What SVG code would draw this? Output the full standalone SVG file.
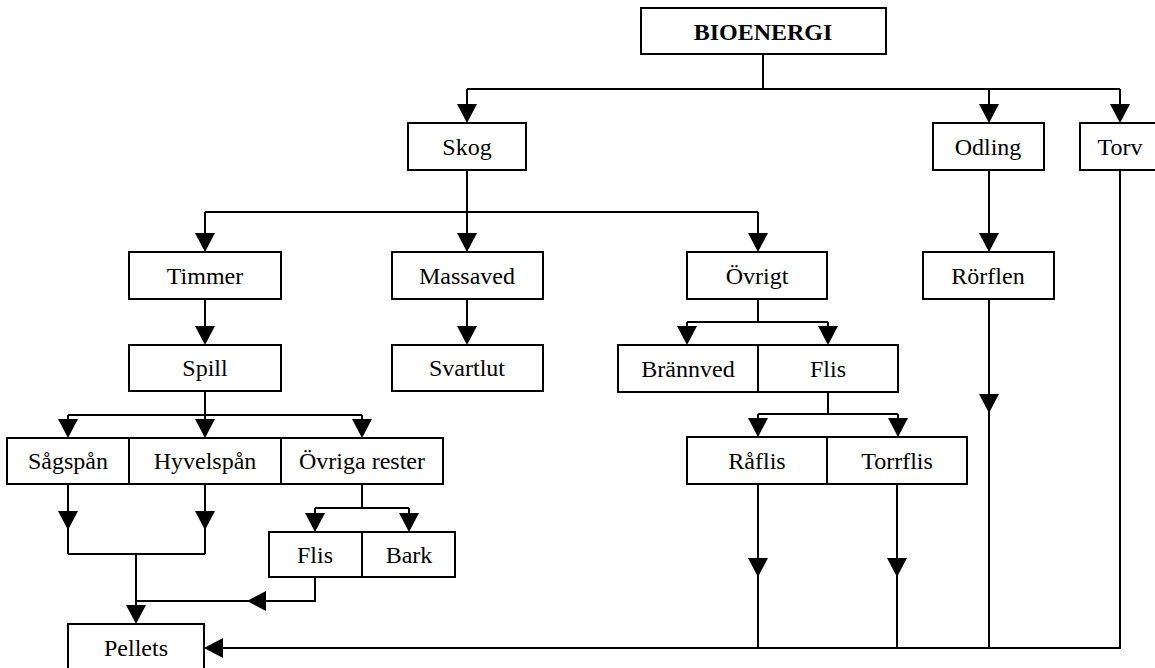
<svg xmlns="http://www.w3.org/2000/svg" xmlns:xlink="http://www.w3.org/1999/xlink" width="1155" height="668" viewBox="0 0 1155 668">
<style>
.box{fill:#fff;stroke:#000;stroke-width:2}
.lbl{font-family:"Liberation Serif","Times New Roman",serif;font-size:24px;fill:#000;text-anchor:middle}
.b{font-weight:bold}
.ln{fill:none;stroke:#000;stroke-width:2}
.ah{fill:#000}
</style>
<defs>
<path id="ah" class="ah" d="M0,0 L-10,-19 L10,-19 Z"/>
</defs>
<rect width="1155" height="668" fill="#fff"/>
<g id="connectors">
<path class="ln" d="M763,54 V89 M467,89 H1120 M467,89 V106 M989,89 V106 M1120,89 V106"/>
<path class="ln" d="M467,170 V212 M205,212 H758 M205,212 V235 M467,212 V235 M758,212 V235"/>
<path class="ln" d="M989,170 V235"/>
<path class="ln" d="M205,299 V328 M467,299 V328"/>
<path class="ln" d="M758,299 V322 M687,322 H828 M687,322 V328 M828,322 V328"/>
<path class="ln" d="M205,391 V415 M68,415 H362 M68,415 V421 M205,415 V421 M362,415 V421"/>
<path class="ln" d="M828,392 V414 M758,414 H898 M758,414 V420 M898,414 V420"/>
<path class="ln" d="M68,484 V554 M205,484 V554 M68,554 H205 M136,554 V607"/>
<path class="ln" d="M362,484 V508 M315,508 H409 M315,508 V515 M409,508 V515"/>
<path class="ln" d="M315,577 V601 H136"/>
<path class="ln" d="M758,484 V648 M897,484 V648 M989,299 V648"/>
<path class="ln" d="M1120,170 V648 H221"/>
<use xlink:href="#ah" href="#ah" x="467" y="123"/>
<use xlink:href="#ah" href="#ah" x="989" y="123"/>
<use xlink:href="#ah" href="#ah" x="1120" y="123"/>
<use xlink:href="#ah" href="#ah" x="205" y="252"/>
<use xlink:href="#ah" href="#ah" x="467" y="252"/>
<use xlink:href="#ah" href="#ah" x="758" y="252"/>
<use xlink:href="#ah" href="#ah" x="989" y="252"/>
<use xlink:href="#ah" href="#ah" x="205" y="345"/>
<use xlink:href="#ah" href="#ah" x="467" y="345"/>
<use xlink:href="#ah" href="#ah" x="687" y="345"/>
<use xlink:href="#ah" href="#ah" x="828" y="345"/>
<use xlink:href="#ah" href="#ah" x="68" y="438"/>
<use xlink:href="#ah" href="#ah" x="205" y="438"/>
<use xlink:href="#ah" href="#ah" x="362" y="438"/>
<use xlink:href="#ah" href="#ah" x="758" y="437"/>
<use xlink:href="#ah" href="#ah" x="898" y="437"/>
<use xlink:href="#ah" href="#ah" x="68" y="530"/>
<use xlink:href="#ah" href="#ah" x="205" y="530"/>
<use xlink:href="#ah" href="#ah" x="315" y="532"/>
<use xlink:href="#ah" href="#ah" x="409" y="532"/>
<use xlink:href="#ah" href="#ah" x="136" y="624"/>
<use xlink:href="#ah" href="#ah" x="758" y="577"/>
<use xlink:href="#ah" href="#ah" x="897" y="577"/>
<use xlink:href="#ah" href="#ah" x="989" y="413"/>
<use xlink:href="#ah" href="#ah" transform="translate(247,601) rotate(90)"/>
<use xlink:href="#ah" href="#ah" transform="translate(204,648) rotate(90)"/>
</g>
<g id="bioenergi"><rect class="box" x="641" y="8" width="245" height="46"/><text class="lbl b" x="763" y="40">BIOENERGI</text></g>
<g id="skog"><rect class="box" x="408" y="123" width="118" height="47"/><text class="lbl" x="467" y="155">Skog</text></g>
<g id="odling"><rect class="box" x="933" y="123" width="111" height="47"/><text class="lbl" x="988" y="155">Odling</text></g>
<g id="torv"><rect class="box" x="1080" y="123" width="80" height="47"/><text class="lbl" x="1120" y="155">Torv</text></g>
<g id="timmer"><rect class="box" x="129" y="252" width="152" height="47"/><text class="lbl" x="205" y="284">Timmer</text></g>
<g id="massaved"><rect class="box" x="392" y="252" width="151" height="47"/><text class="lbl" x="467" y="284">Massaved</text></g>
<g id="ovrigt"><rect class="box" x="687" y="252" width="140" height="47"/><text class="lbl" x="757" y="284">Övrigt</text></g>
<g id="rorflen"><rect class="box" x="923" y="252" width="131" height="47"/><text class="lbl" x="988" y="284">Rörflen</text></g>
<g id="spill"><rect class="box" x="129" y="345" width="152" height="46"/><text class="lbl" x="205" y="376">Spill</text></g>
<g id="svartlut"><rect class="box" x="392" y="345" width="151" height="46"/><text class="lbl" x="467" y="376">Svartlut</text></g>
<g id="brannved"><rect class="box" x="618" y="345" width="140" height="47"/><text class="lbl" x="688" y="377">Brännved</text></g>
<g id="flis1"><rect class="box" x="758" y="345" width="140" height="47"/><text class="lbl" x="828" y="377">Flis</text></g>
<g id="sagspan"><rect class="box" x="7" y="438" width="122" height="46"/><text class="lbl" x="68" y="469">Sågspån</text></g>
<g id="hyvelspan"><rect class="box" x="129" y="438" width="152" height="46"/><text class="lbl" x="205" y="469">Hyvelspån</text></g>
<g id="ovriga-rester"><rect class="box" x="281" y="438" width="162" height="46"/><text class="lbl" x="362" y="469">Övriga rester</text></g>
<g id="raflis"><rect class="box" x="687" y="437" width="140" height="47"/><text class="lbl" x="757" y="469">Råflis</text></g>
<g id="torrflis"><rect class="box" x="827" y="437" width="140" height="47"/><text class="lbl" x="897" y="469">Torrflis</text></g>
<g id="flis2"><rect class="box" x="269" y="532" width="93" height="45"/><text class="lbl" x="315" y="563">Flis</text></g>
<g id="bark"><rect class="box" x="362" y="532" width="93" height="45"/><text class="lbl" x="409" y="563">Bark</text></g>
<g id="pellets"><rect class="box" x="68" y="624" width="136" height="48"/><text class="lbl" x="136" y="656">Pellets</text></g>
</svg>
